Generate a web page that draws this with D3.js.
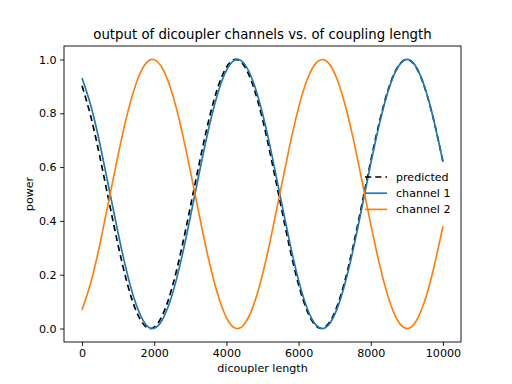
<!DOCTYPE html>
<html>
<head>
<meta charset="utf-8">
<script src="https://cdn.jsdelivr.net/npm/d3@7"></script>
<style>
  body { margin: 0; background: #fff; }
  svg { font-family: "DejaVu Sans", sans-serif; }
</style>
</head>
<body>
<svg width="512" height="384"></svg>
<script>
// coupling length samples (every 250)
var lengths = d3.range(0, 10001, 250)

// values
var predicted = [0.902, 0.784, 0.634, 0.470, 0.309, 0.169, 0.065, 0.009, 0.005, 0.056,
                 0.155, 0.292, 0.451, 0.615, 0.768, 0.891, 0.971, 1.000, 0.975, 0.898,
                 0.778, 0.627, 0.463, 0.302, 0.163, 0.062, 0.007, 0.007, 0.060, 0.161,
                 0.299, 0.459, 0.623, 0.774, 0.895, 0.973, 1.000, 0.972, 0.893, 0.771, 0.620]
var channel1 = [0.931, 0.825, 0.683, 0.519, 0.354, 0.205, 0.089, 0.018, 0.001, 0.039,
                0.127, 0.257, 0.414, 0.580, 0.738, 0.869, 0.959, 0.999, 0.983, 0.914,
                0.799, 0.651, 0.486, 0.323, 0.179, 0.071, 0.011, 0.004, 0.052, 0.150,
                0.286, 0.447, 0.613, 0.766, 0.890, 0.971, 1.000, 0.974, 0.895, 0.772, 0.620]
var channel2 = [0.069, 0.175, 0.317, 0.481, 0.646, 0.795, 0.911, 0.982, 0.999, 0.961,
                0.873, 0.743, 0.586, 0.420, 0.262, 0.131, 0.041, 0.001, 0.017, 0.086,
                0.201, 0.349, 0.514, 0.677, 0.821, 0.929, 0.989, 0.996, 0.948, 0.850,
                0.714, 0.553, 0.387, 0.234, 0.110, 0.029, 0.000, 0.026, 0.105, 0.228, 0.380]

var xTicks = [0, 2000, 4000, 6000, 8000, 10000]
var yTicks = [0.0, 0.2, 0.4, 0.6, 0.8, 1.0]

var series = [
    {name: 'predicted', values: predicted, color: '#000000', dash: '6.2,4'},
    {name: 'channel 1', values: channel1, color: '#1f77b4', dash: null},
    {name: 'channel 2', values: channel2, color: '#ff7f0e', dash: null}
]

var svg = d3.select('svg')
var plotLeft = 64, plotRight = 461, plotTop = 46, plotBottom = 342

var x = d3.scaleLinear().domain([-500, 10500]).range([plotLeft, plotRight])
var y = d3.scaleLinear().domain([-0.05, 1.05]).range([plotBottom, plotTop])

// axes
var xAxis = d3.axisBottom(x).tickValues(xTicks).tickSize(3.9).tickPadding(3.5)
    .tickFormat(d3.format('d'))
var yAxis = d3.axisLeft(y).tickValues(yTicks).tickSize(3.9).tickPadding(3.5)
    .tickFormat(d3.format('.1f'))

svg.append('g')
    .attr('transform', 'translate(0,' + plotBottom + ')')
    .call(xAxis)
    .call(g => g.select('.domain').remove())
    .selectAll('text').attr('font-size', 11.1).attr('font-family', 'DejaVu Sans').attr('fill', '#000')

svg.append('g')
    .attr('transform', 'translate(' + plotLeft + ',0)')
    .call(yAxis)
    .call(g => g.select('.domain').remove())
    .selectAll('text').attr('font-size', 11.1).attr('font-family', 'DejaVu Sans').attr('fill', '#000')

svg.selectAll('.tick line').attr('stroke', '#000').attr('stroke-width', 0.9)

// lines
var line = d3.line()
    .x((d, i) => x(lengths[i]))
    .y(d => y(d))
    .curve(d3.curveNatural)

var plot = svg.append('g')
plot.selectAll('path')
    .data(series)
    .join('path')
    .attr('d', d => line(d.values))
    .attr('fill', 'none')
    .attr('stroke', d => d.color)
    .attr('stroke-width', 1.67)
    .attr('stroke-dasharray', d => d.dash)

// frame
svg.append('rect')
    .attr('x', plotLeft).attr('y', plotTop)
    .attr('width', plotRight - plotLeft).attr('height', plotBottom - plotTop)
    .attr('fill', 'none').attr('stroke', '#000').attr('stroke-width', 0.9)

// title and labels
svg.append('text')
    .attr('x', (plotLeft + plotRight) / 2).attr('y', 39.3)
    .attr('text-anchor', 'middle').attr('font-size', 13.3)
    .text('output of dicoupler channels vs. of coupling length')

svg.append('text')
    .attr('x', (plotLeft + plotRight) / 2).attr('y', 372)
    .attr('text-anchor', 'middle').attr('font-size', 11.1)
    .text('dicoupler length')

svg.append('text')
    .attr('transform', 'translate(33,' + (plotTop + plotBottom) / 2 + ') rotate(-90)')
    .attr('text-anchor', 'middle').attr('font-size', 11.1)
    .text('power')

// legend (no frame)
var legend = svg.append('g').attr('transform', 'translate(365,177)')
var item = legend.selectAll('g')
    .data(series)
    .join('g')
    .attr('transform', (d, i) => 'translate(0,' + i * 16.2 + ')')
item.append('line')
    .attr('x1', 0).attr('x2', 22)
    .attr('stroke', d => d.color)
    .attr('stroke-width', 1.67)
    .attr('stroke-dasharray', d => d.dash)
item.append('text')
    .attr('x', 31).attr('y', 4)
    .attr('font-size', 11.1)
    .text(d => d.name)
</script>
</body>
</html>
